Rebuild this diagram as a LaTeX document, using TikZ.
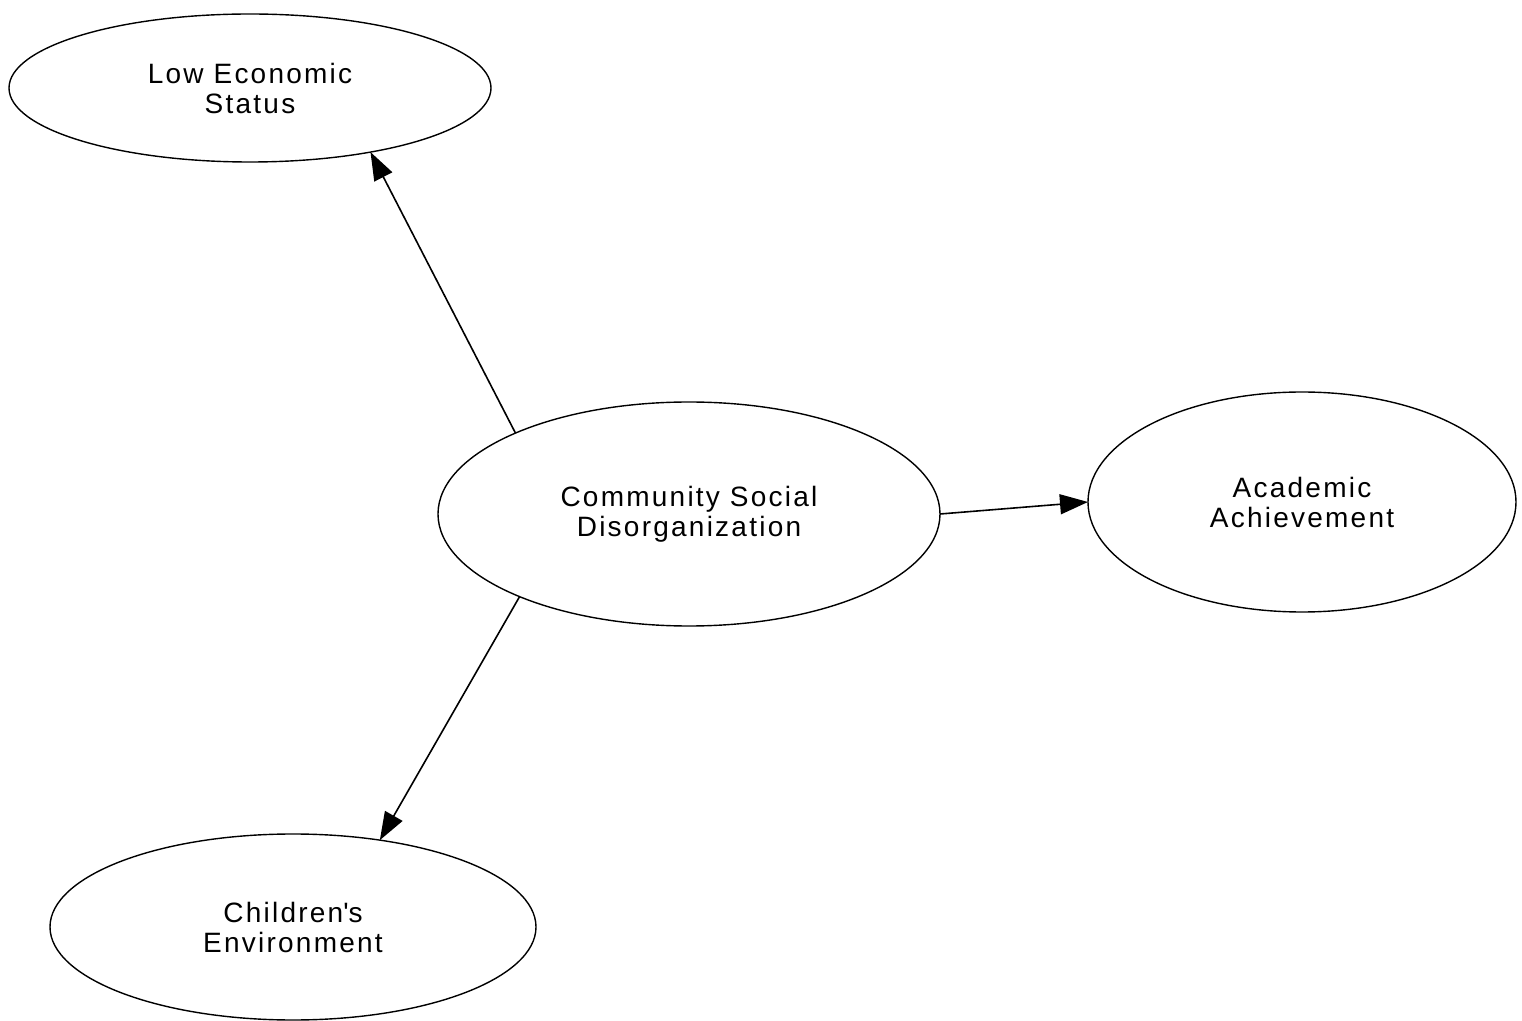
\documentclass[tikz,border=0pt]{standalone}
\usepackage{fontspec}
\setmainfont{Liberation Sans}[LetterSpace=8]
\usetikzlibrary{shapes.geometric,arrows.meta}
\tikzset{
  latent/.style={ellipse, draw, line width=0.7pt, inner sep=0pt, outer sep=0pt,
    align=center, font=\fontsize{14}{15}\selectfont},
  path/.style={line width=0.8pt, -{Triangle[length=14pt,width=10pt]}}
}
\begin{document}
\begin{tikzpicture}[x=0.5pt,y=-0.5pt]
\useasboundingbox (0,0) rectangle (1522,1021);
\node[latent, minimum width=241pt, minimum height=74pt] (les) at (250,88) {Low Economic\\Status};
\node[latent, minimum width=251pt, minimum height=112pt] (csd) at (689,514) {Community Social\\Disorganization};
\node[latent, minimum width=214pt, minimum height=110pt] (aa) at (1302,502) {Academic\\Achievement};
\node[latent, minimum width=243pt, minimum height=93pt] (ce) at (293,927) {Children\textquotesingle s\\Environment};
\draw[path] (csd.155.3) -- (les.-28.7);
\draw[path] (csd.0.5) -- (aa.180);
\draw[path] (csd.206.8) -- (ce.45.7);
\end{tikzpicture}
\end{document}
